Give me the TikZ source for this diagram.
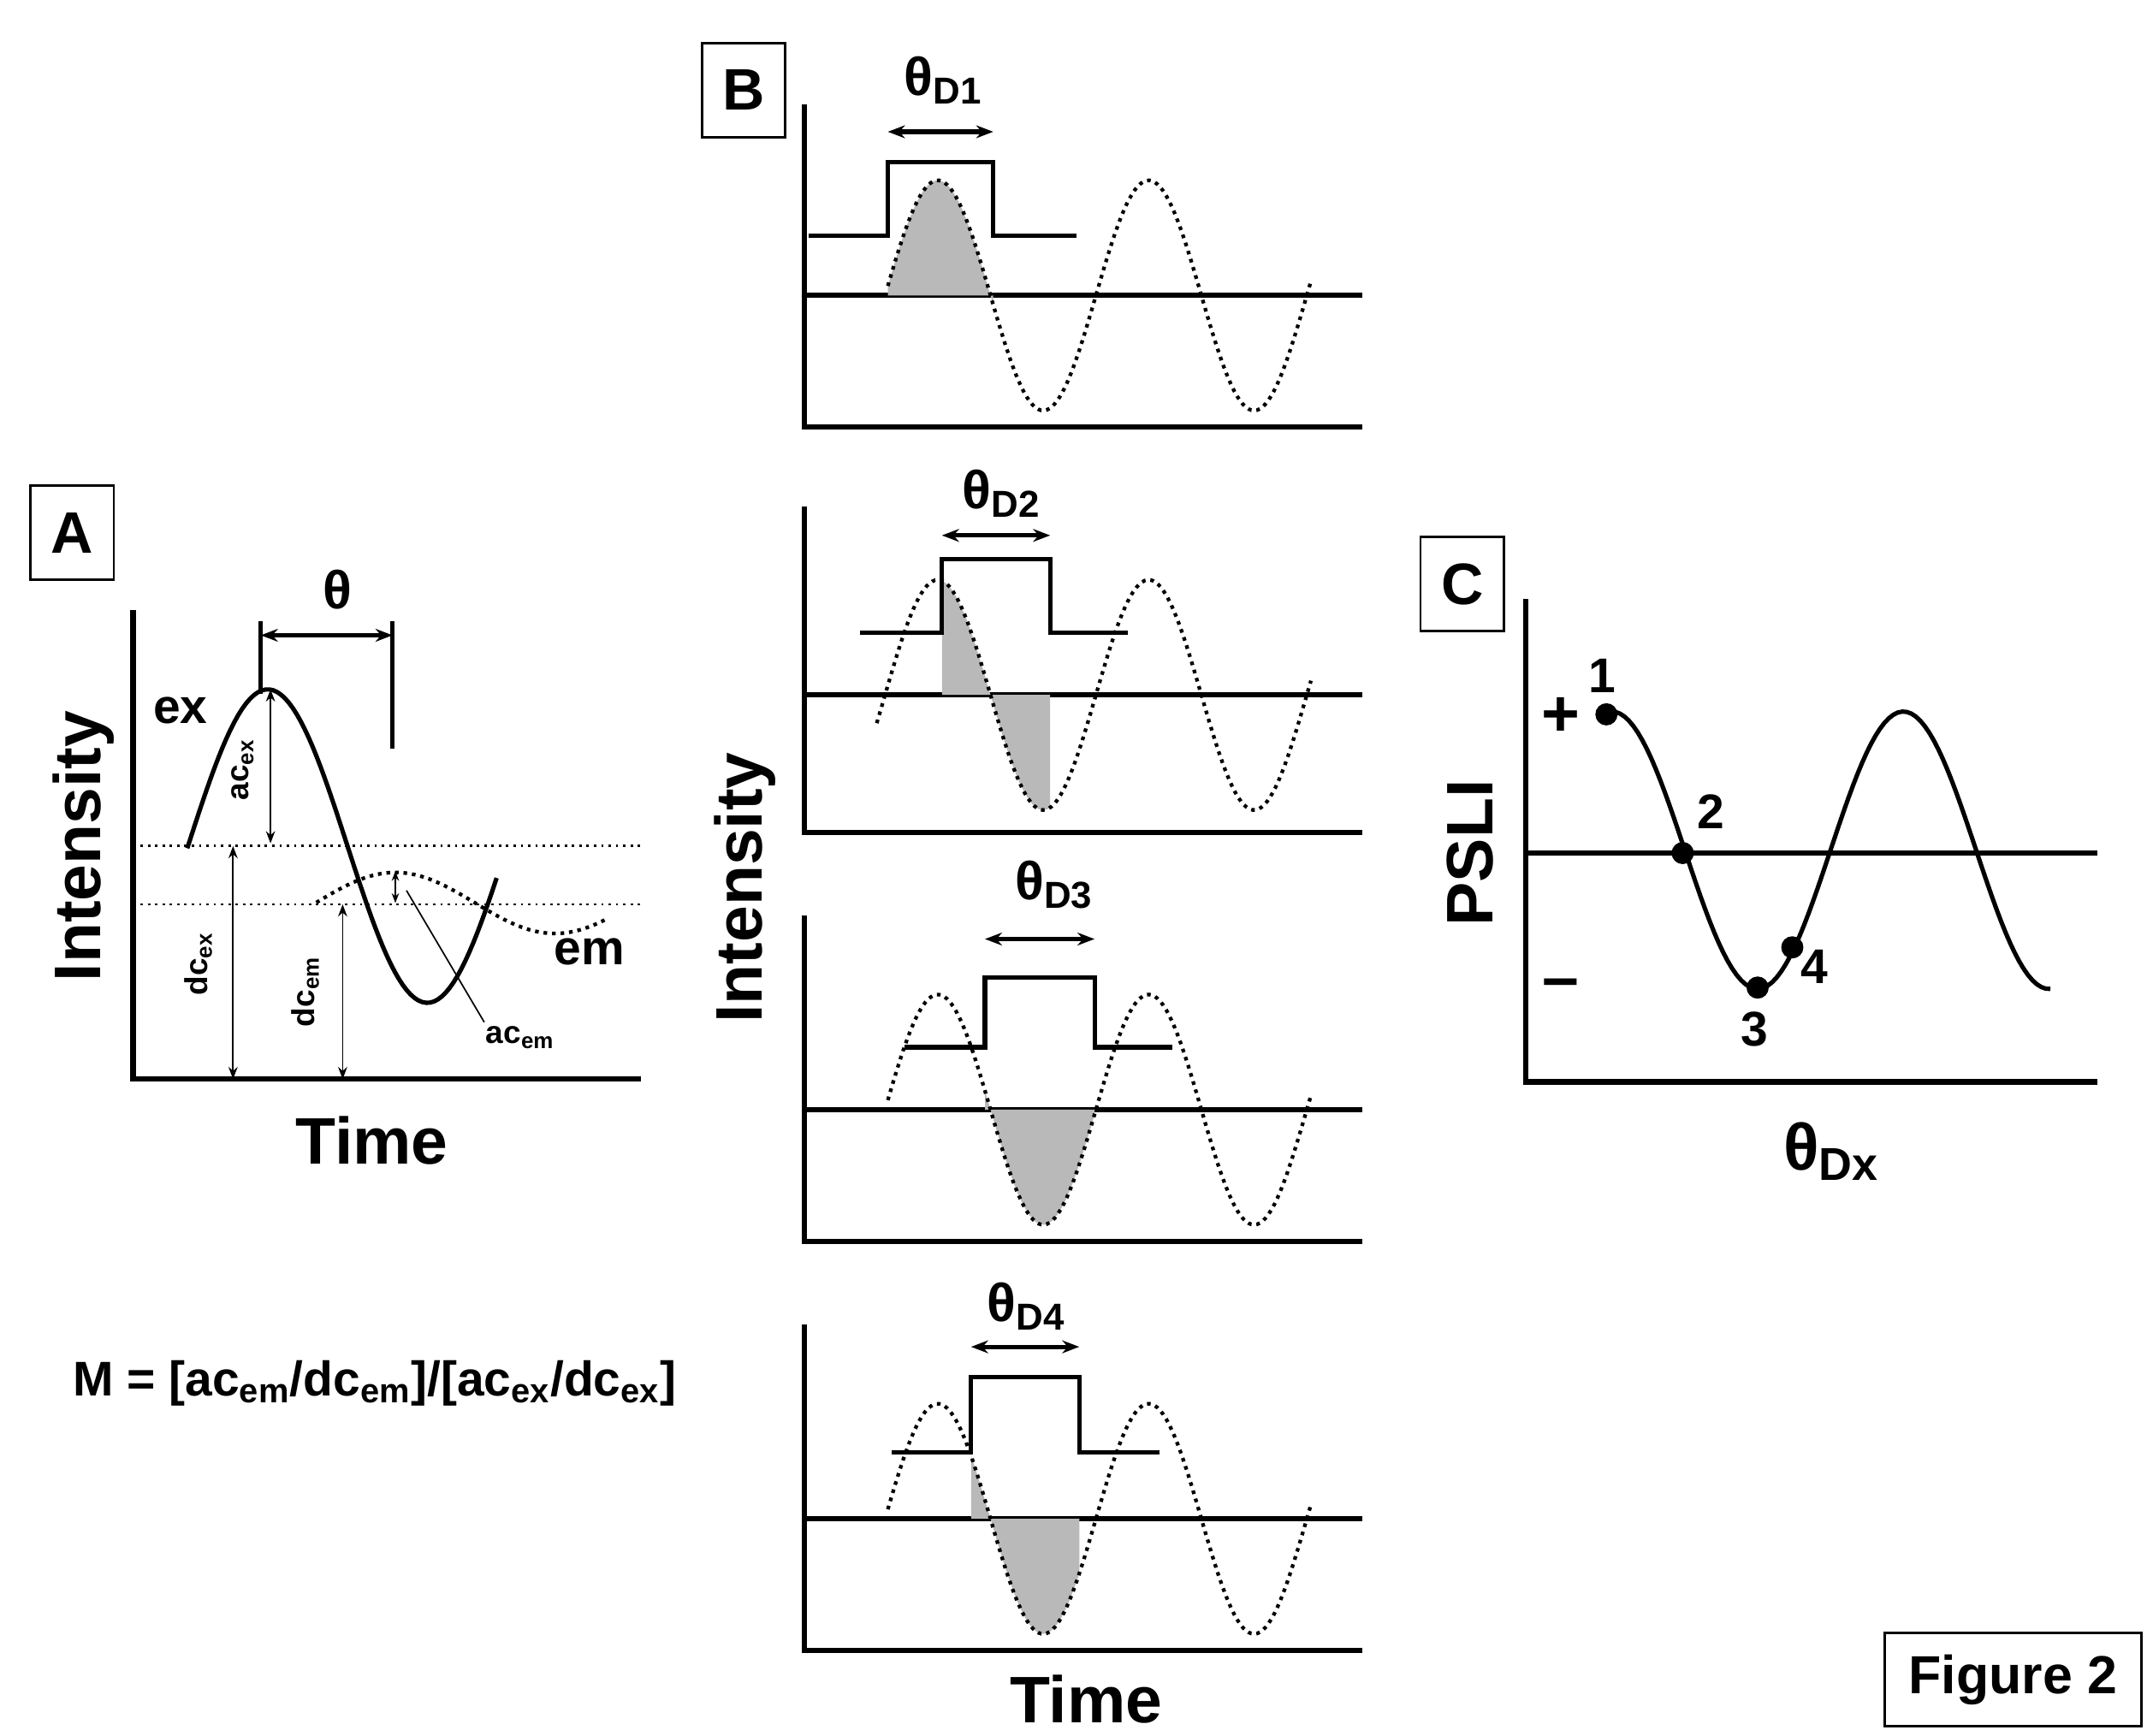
\documentclass[tikz,border=0pt]{standalone}
\usepackage{fontspec}
\setmainfont{Liberation Sans}
\usetikzlibrary{arrows.meta}
\begin{document}
\begin{tikzpicture}[x=0.02cm,y=-0.02cm,
 ax/.style={line width=2.2pt},
 cur/.style={line width=1.8pt},
 dot/.style={line width=1.5pt,dotted},
 gate/.style={line width=1.8pt},
 darr/.style={line width=1.8pt,{Stealth[length=7pt]}-{Stealth[length=7pt]}},
 tarr/.style={line width=0.6pt,{Stealth[length=5pt]}-{Stealth[length=5pt]}},
 box/.style={draw,line width=1pt,font=\fontsize{24}{24}\selectfont\bfseries,minimum width=1.2cm,minimum height=1.35cm,inner sep=0pt},
 big/.style={font=\fontsize{27}{27}\selectfont\bfseries},
 mid/.style={font=\fontsize{20}{20}\selectfont\bfseries},
 th/.style={font=\fontsize{22}{22}\selectfont\bfseries},
 sm/.style={font=\fontsize{13}{13}\selectfont\bfseries},
 shade/.style={fill=gray!55}]
\useasboundingbox (0,0) rectangle (1552,1251);
% ---------- Panel A
\node[box] (A) at (52,384) {A};
\draw[ax] (96,440) -- (96,778) -- (462,778);
\node[big,rotate=90] (intA) at (60,610) {Intensity};
\node[big] (timeA) at (268,822) {Time};
\draw[dotted,line width=1pt] (96,610) -- (462,610);
\draw[dotted,line width=1pt] (96,652) -- (462,652);
\draw[cur] plot[domain=135:358,samples=80] (\x,{610-113*cos((\x-193)/230*360)});
\draw[dot] plot[domain=228:437,samples=80] (\x,{651-22*cos((\x-285)/230*360)});
\node[mid] (ex) at (130,512) {ex};
\node[mid] (em) at (425,686) {em};
\draw[line width=1.8pt] (188,448) -- (188,500);
\draw[line width=1.8pt] (283,448) -- (283,540);
\coordinate (t1) at (188,458); \coordinate (t2) at (283,458);
\draw[darr] (t1) -- (t2);
\node[th] (theta) at (243,425) {θ};
\coordinate (a1) at (195,497); \coordinate (a2) at (195,608);
\draw[tarr] (a1) -- (a2);
\node[sm,rotate=90] (acex) at (175,555) {ac\textsubscript{ex}};
\coordinate (d1) at (168,610); \coordinate (d2) at (168,778);
\draw[tarr] (d1) -- (d2);
\node[sm,rotate=90] (dcex) at (143,695) {dc\textsubscript{ex}};
\coordinate (e1) at (247,652); \coordinate (e2) at (247,778);
\draw[tarr] (e1) -- (e2);
\node[sm,rotate=90] (dcem) at (220,715) {dc\textsubscript{em}};
\coordinate (f1) at (285,628); \coordinate (f2) at (285,651);
\draw[line width=0.8pt,{Stealth[length=4pt]}-{Stealth[length=4pt]}] (f1) -- (f2);
\node[sm] (acem) at (375,748) {ac\textsubscript{em}};
\coordinate (g1) at (293,642);
\draw[line width=0.6pt] (acem.north west) ++(5,3) -- (g1);
\node[font=\fontsize{20}{20}\selectfont\bfseries] (M) at (270,997) {M = [ac\textsubscript{em}/dc\textsubscript{em}]/[ac\textsubscript{ex}/dc\textsubscript{ex}]};
% ---------- Panel B
\node[box] (B) at (536,65) {B};
\node[big,rotate=90] (intB) at (537,640) {Intensity};
\node[big] (timeB) at (783,1225) {Time};
\foreach \t/\b/\m/\gy/\gx/\gs/\ge/\pt/\ds/\lab/\ly/\lx/\ay in {
 75/308/213/170/583/640/716/117/640/1/58/680/95,
 365/600/501/456/620/679/757/403/632/2/356/722/386,
 660/895/800/755/652/710/789/705/640/3/638/760/677,
 955/1190/1095/1047/643/700/778/993/640/4/942/740/971}{
 \draw[ax] (580,\t) -- (580,\b) -- (982,\b);
 \draw[ax] (580,\m) -- (982,\m);
 \fill[shade] plot[domain=\gs:\ge,samples=40] (\x,{\m-83*cos((\x-676)/152*360)}) -- (\ge,\m) -- (\gs,\m) -- cycle;
 \draw[dot] plot[domain=\ds:945,samples=150] (\x,{\m-83*cos((\x-676)/152*360)});
 \pgfmathsetmacro{\gend}{\gx+193}
 \draw[gate] (\gx,\gy) -- (\gs,\gy) -- (\gs,\pt) -- (\ge,\pt) -- (\ge,\gy) -- (\gend,\gy);
 \coordinate (l\lab) at (\gs,\ay); \coordinate (r\lab) at (\ge,\ay);
 \draw[darr] (l\lab) -- (r\lab);
 \node[th] (thd\lab) at (\lx,\ly) {θ\textsubscript{D\lab}};
}
% ---------- Panel C
\node[box] (C) at (1054,421) {C};
\draw[ax] (1100,432) -- (1100,780) -- (1512,780);
\draw[ax] (1100,615) -- (1512,615);
\draw[cur] plot[domain=1158:1478,samples=100] (\x,{613-100*cos((\x-1162)/210*360)});
\node[big,rotate=90] (psli) at (1060,615) {PSLI};
\node[big] (plus) at (1125,517) {+};
\node[big] (minus) at (1125,713) {–};
\foreach \n/\px/\py/\lx/\ly in {1/1158/515/1155/487, 2/1213/615/1233/585, 3/1267/712/1265/742, 4/1292/683/1308/697}{
 \fill (\px,\py) circle (8);
 \node[mid] (n\n) at (\lx,\ly) {\n};
}
\node[big] (thdx) at (1320,830) {θ\textsubscript{Dx}};
\node[draw,line width=1pt,font=\fontsize{22}{22}\selectfont\bfseries,minimum width=3.7cm,minimum height=1.34cm] (fig) at (1451,1211) {Figure 2};
\end{tikzpicture}
\end{document}
